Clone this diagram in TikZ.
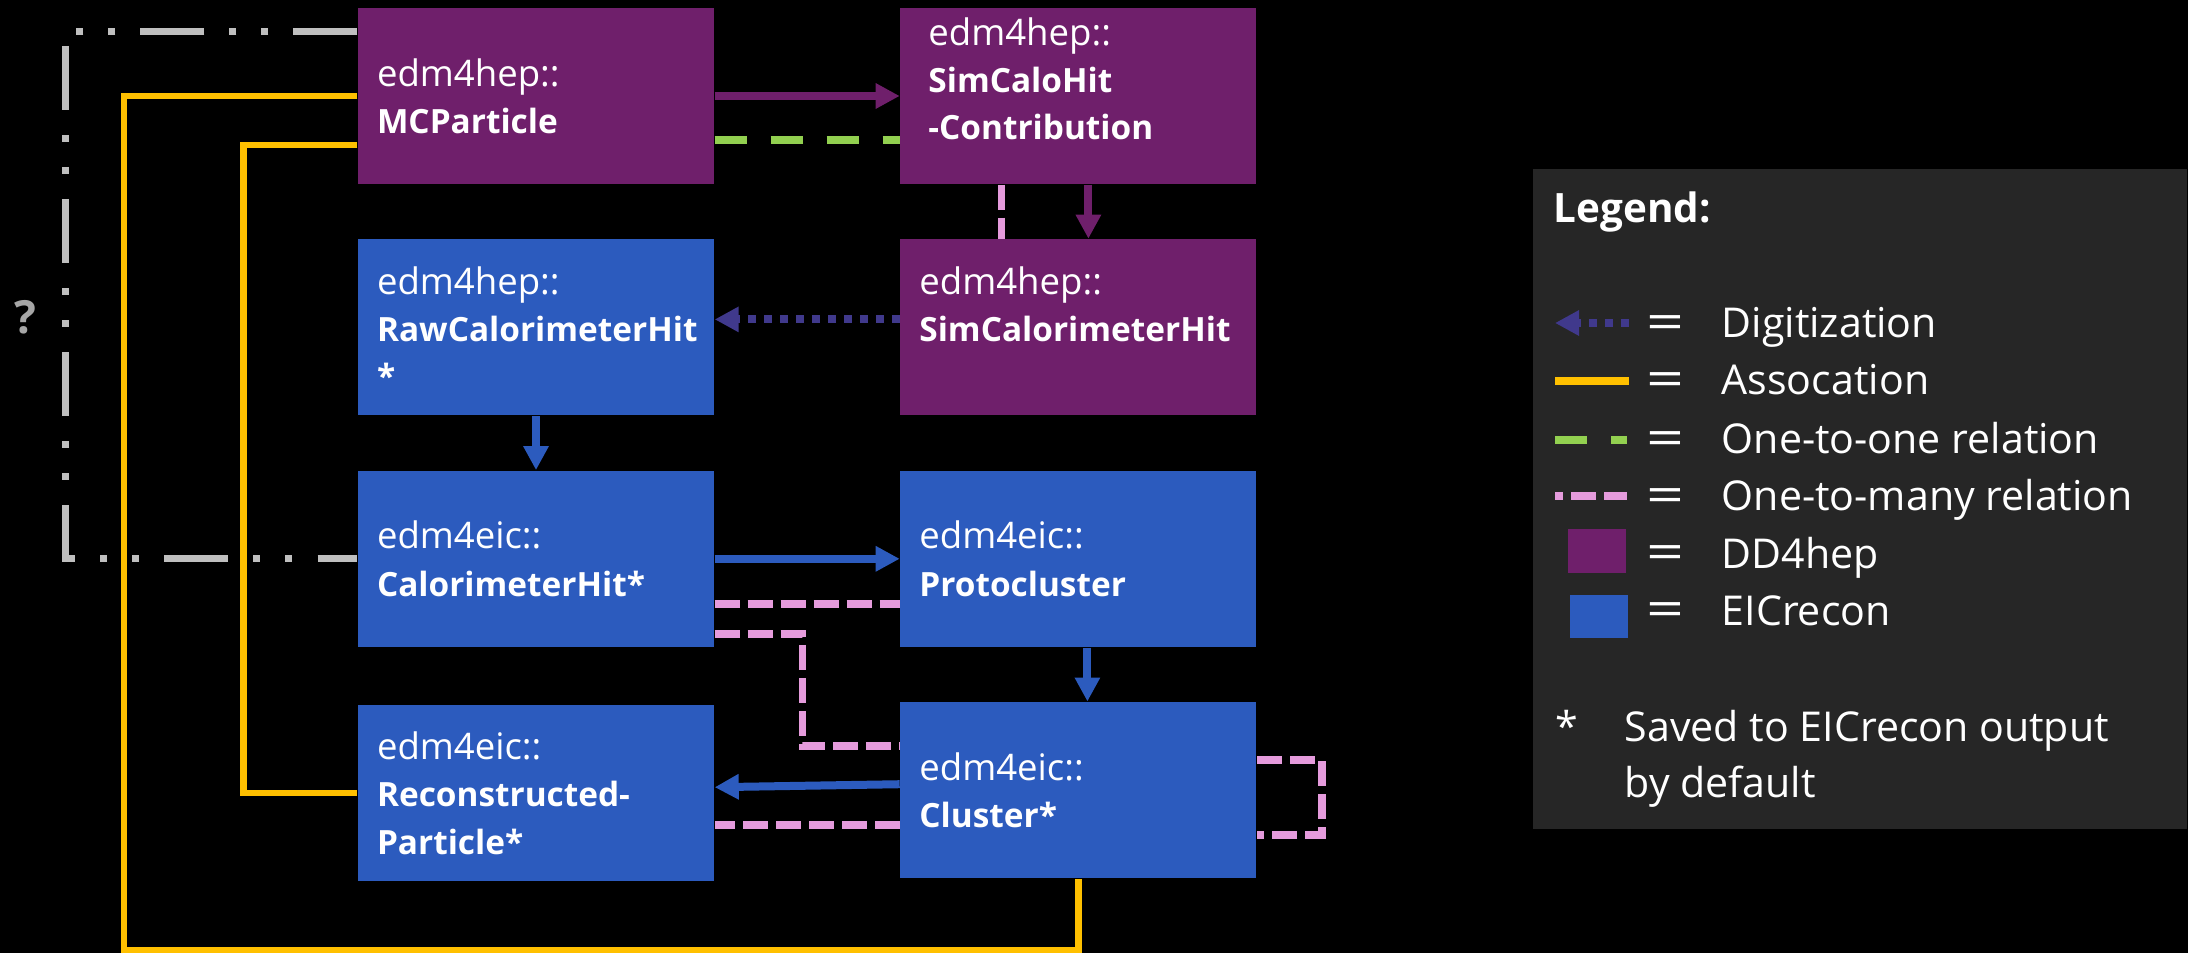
\documentclass[tikz,border=0pt]{standalone}
\usepackage{fontspec}
\setmainfont{Open Sans}
\usepackage{tikz}
\usetikzlibrary{positioning,arrows.meta}

\definecolor{ddpurple}{RGB}{111,31,107}
\definecolor{eicblue}{RGB}{44,91,190}
\definecolor{digiblue}{RGB}{64,57,140}
\definecolor{assocyellow}{RGB}{255,192,0}
\definecolor{onegreen}{RGB}{146,208,80}
\definecolor{manypink}{RGB}{229,155,220}
\definecolor{unkgray}{RGB}{191,191,191}
\definecolor{qgray}{RGB}{166,166,166}
\definecolor{legendbg}{RGB}{38,38,38}

\newcommand{\nsname}[1]{{\fontsize{10.4}{13.4}\selectfont #1}}

\begin{document}
\begin{tikzpicture}[>={Triangle[length=0.24cm,width=0.24cm]},
    box/.style={rectangle,minimum width=3.56cm,minimum height=1.76cm,
      inner xsep=0.19cm,inner ysep=0pt,text width=3.18cm,align=left,
      text=white,font=\fontsize{9.5}{13.4}\selectfont},
    ddbox/.style={box,fill=ddpurple},
    eicbox/.style={box,fill=eicblue},
    flow/.style={->,line width=0.08cm},
    digi/.style={->,line width=0.08cm,digiblue,dash pattern=on 0.08cm off 0.08cm},
    assoc/.style={line width=0.065cm,assocyellow},
    onetoone/.style={line width=0.075cm,onegreen,dash pattern=on 0.32cm off 0.24cm},
    onetomany/.style={line width=0.075cm,manypink,dash pattern=on 0.25cm off 0.08cm},
    unknown/.style={line width=0.07cm,unkgray,
      dash pattern=on 0.64cm off 0.25cm on 0.07cm off 0.25cm on 0.07cm off 0.25cm},
    legtext/.style={anchor=base west,text=white,inner sep=0pt,
      font=\fontsize{11.7}{14}\selectfont}]

  \fill[black] (0,0) rectangle (21.88,-9.53);
  \useasboundingbox (0,0) rectangle (21.88,-9.53);

  % data types
  \node[ddbox]  (mcp)     at (5.36,-0.96)        {\nsname{edm4hep::}\\\textbf{MCParticle}};
  \node[ddbox,inner xsep=0.28cm,text width=3.0cm]
                (schc)    [right=1.85cm of mcp]  {\nsname{edm4hep::}\\\textbf{SimCaloHit}\\\textbf{-Contribution}\\[-0.12cm]~};
  \node[ddbox]  (simhit)  [below=0.54cm of schc] {\nsname{edm4hep::}\\\textbf{SimCalorimeterHit}\\~};
  \node[eicbox] (rawhit)  [below=0.54cm of mcp]  {\nsname{edm4hep::}\\\textbf{RawCalorimeterHit}\\\textbf{*}};
  \node[eicbox] (calohit) [below=0.54cm of rawhit] {\nsname{edm4eic::}\\\textbf{CalorimeterHit*}};
  \node[eicbox] (proto)   [below=0.54cm of simhit] {\nsname{edm4eic::}\\\textbf{Protocluster}};
  \node[eicbox] (clus)    [below=0.54cm of proto]  {\nsname{edm4eic::}\\\textbf{Cluster*}};
  \node[eicbox] (recop)   [below=0.57cm of calohit] {\nsname{edm4eic::}\\\textbf{Reconstructed-}\\\textbf{Particle*}};

  % processing flow
  \draw[flow,ddpurple] (mcp.east) -- (schc.west);
  \draw[flow,ddpurple] ([xshift=0.1cm]schc.south) -- ([xshift=0.1cm]simhit.north);
  \draw[digi] ([yshift=0.08cm]simhit.west) -- ([yshift=0.08cm]rawhit.east);
  \draw[flow,eicblue] (rawhit) -- (calohit);
  \draw[flow,eicblue] (calohit) -- (proto);
  \draw[flow,eicblue] ([xshift=0.09cm]proto.south) -- ([xshift=0.09cm]clus.north);
  \draw[flow,eicblue] ([yshift=0.06cm]clus.west) -- ([yshift=0.06cm]recop.east);

  % relations
  \draw[onetoone] ([yshift=-0.44cm]mcp.east) -- ([yshift=-0.44cm]schc.west);
  \draw[onetomany] ([xshift=-0.77cm]schc.south) -- ([xshift=-0.77cm]simhit.north);
  \draw[onetomany] ([yshift=-0.45cm]calohit.east) -- ([yshift=-0.45cm]proto.west);
  \draw[onetomany] ([yshift=-0.75cm]calohit.east) -- ++(0.88,0) |- ([yshift=0.44cm]clus.west);
  \coordinate (many) at ([yshift=-0.35cm]clus.west);
  \draw[onetomany] (many) -- (many -| recop.east);
  \draw[onetomany] ([yshift=0.3cm]clus.east) -- ++(0.65,0) |- ([yshift=-0.45cm]clus.east);

  % associations
  \coordinate (assoccorner) at (1.24,-9.50);
  \draw[assoc] (mcp.west) -| (assoccorner) -| (clus.south);
  \draw[assoc] ([yshift=-0.49cm]mcp.west) -- ++(-1.14,0) |- (recop.west);

  % unknown link
  \draw[unknown] ([yshift=0.64cm]mcp.west) -- ++(-2.92,0) |- (calohit.west);
  \node[text=qgray,font=\fontsize{13}{15}\selectfont\bfseries] (qmark) at (0.25,-3.17) {?};

  % legend
  \node[fill=legendbg,minimum width=6.54cm,minimum height=6.6cm,inner sep=0pt,
        anchor=north west] (legend) at (15.32,-1.68) {};
  \node[legtext,font=\fontsize{11.5}{14}\selectfont\bfseries] (legtitle) at (15.53,-2.23) {Legend:};
  \draw[digi] (16.29,-3.23) -- (15.55,-3.23);
  \draw[assoc,line width=0.08cm] (15.55,-3.81) -- (16.29,-3.81);
  \draw[onetoone] (15.55,-4.40) -- (16.27,-4.40);
  \draw[onetomany,dash phase=0.17cm] (15.55,-4.96) -- (16.27,-4.96);
  \fill[ddpurple] (15.68,-5.29) rectangle (16.26,-5.73);
  \fill[eicblue] (15.70,-5.95) rectangle (16.28,-6.38);
  \foreach \yy/\txt [count=\i] in {3.38/Digitization,3.95/Assocation,4.54/One-to-one relation,
      5.11/One-to-many relation,5.68/DD4hep,6.25/EICrecon} {
    \node[text=white,font=\fontsize{14}{14}\selectfont,inner sep=0pt] (eq\i) at (16.65,-\yy+0.10) {\scalebox{1.35}[1]{=}};
    \node[legtext] (lab\i) at (17.21,-\yy) {\txt};
  }
  \node[legtext] (star) at (15.55,-7.41) {*};
  \node[legtext] (saved) at (16.24,-7.41) {Saved to EICrecon output};
  \node[legtext] (bydef) at (16.24,-7.97) {by default};
\end{tikzpicture}
\end{document}
